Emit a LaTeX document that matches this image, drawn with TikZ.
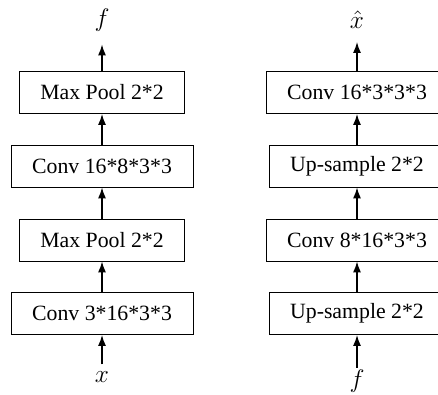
\documentclass[tikz,border=0pt]{standalone}
\usepackage{fontspec}
\setmainfont{Liberation Serif}
\usetikzlibrary{arrows.meta}
\begin{document}
\begin{tikzpicture}[
        layer/.style={draw, minimum height=0.84cm, inner xsep=0.42cm, font=\fontsize{12.4}{14}\selectfont},
        flow/.style={-{Latex[length=2.2mm,width=1.6mm]}, line width=0.9pt},
        lbl/.style={inner sep=1pt, font=\fontsize{14.5}{16}\selectfont}]
        \useasboundingbox (0,0) rectangle (8.76,7.88);
        % encoder
        \node[layer] (e1) at (2.04,1.61) {Conv 3*16*3*3};
        \node[layer] (e2) at (2.04,3.08) {Max Pool 2*2};
        \node[layer] (e3) at (2.04,4.56) {Conv 16*8*3*3};
        \node[layer] (e4) at (2.04,6.03) {Max Pool 2*2};
        \node[lbl] (ein) at (2.04,0.34) {$x$};
        \node[lbl] (eout) at (2.04,7.48) {$f$};
        \draw[flow, shorten <=0.1cm] (ein) -- (e1);
        \draw[flow] (e1) -- (e2);
        \draw[flow] (e2) -- (e3);
        \draw[flow] (e3) -- (e4);
        \draw[flow, shorten >=0.22cm] (e4) -- (eout);
        % decoder
        \node[layer] (d1) at (7.14,1.61) {Up-sample 2*2};
        \node[layer] (d2) at (7.14,3.08) {Conv 8*16*3*3};
        \node[layer] (d3) at (7.14,4.56) {Up-sample 2*2};
        \node[layer] (d4) at (7.14,6.03) {Conv 16*3*3*3};
        \node[lbl] (din) at (7.14,0.26) {$f$};
        \node[lbl] (dout) at (7.14,7.48) {$\hat{x}$};
        \draw[flow] (din) -- (d1);
        \draw[flow] (d1) -- (d2);
        \draw[flow] (d2) -- (d3);
        \draw[flow] (d3) -- (d4);
        \draw[flow, shorten >=0.22cm] (d4) -- (dout);
    \end{tikzpicture}
\end{document}
